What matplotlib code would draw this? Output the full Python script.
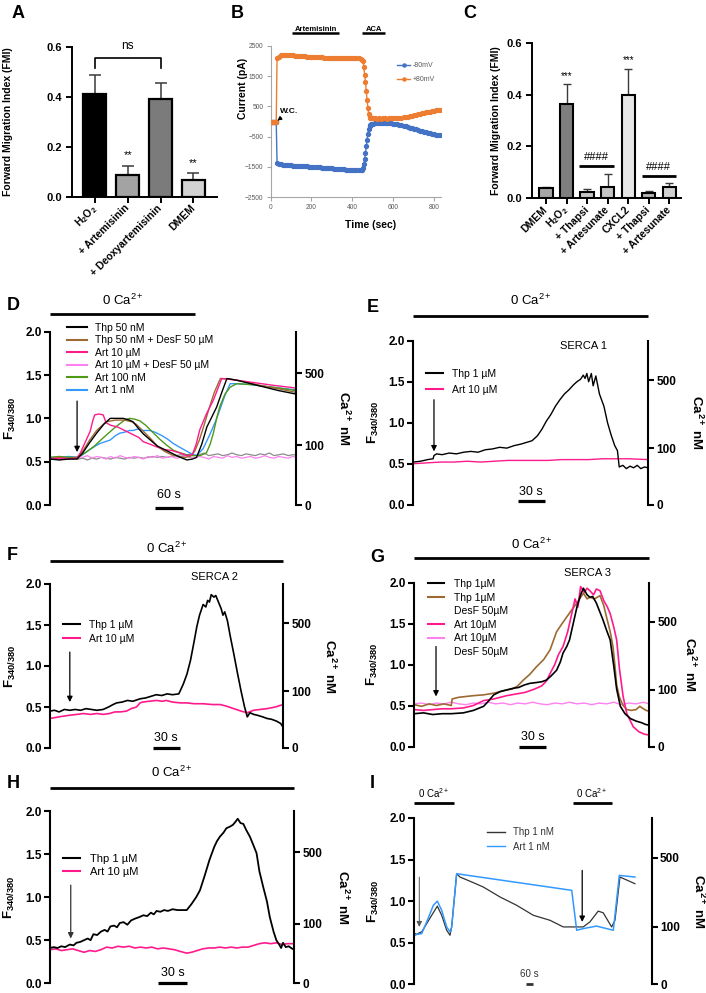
import numpy as np
import matplotlib
matplotlib.use("Agg")
import matplotlib.pyplot as plt
from matplotlib.lines import Line2D

plt.rcParams['font.family'] = ['Liberation Sans', 'DejaVu Sans']
plt.rcParams['mathtext.fontset'] = 'custom'
plt.rcParams['mathtext.rm'] = 'Liberation Sans'
plt.rcParams['mathtext.it'] = 'Liberation Sans:italic'
plt.rcParams['mathtext.bf'] = 'Liberation Sans:bold'
plt.rcParams['mathtext.default'] = 'regular'

W, H = 706, 993
fig = plt.figure(figsize=(W / 100, H / 100), dpi=100)
fig.patch.set_facecolor('white')

# ======================= DATA =======================
# ---- Panel A ----
A_LABELS = ['H$_2$O$_2$', '+ Artemisinin', '+ Deoxyartemisinin', 'DMEM']
A_MEANS = [0.41, 0.087, 0.39, 0.067]
A_ERR = [0.077, 0.036, 0.064, 0.026]
A_COLORS = ['#000000', '#a3a3a3', '#7b7b7b', '#d3d3d3']
A_STARS = ['', '**', '', '**']
FMI_TICKS = [0.0, 0.2, 0.4, 0.6]
FMI_TICK_LABELS = ['0.0', '0.2', '0.4', '0.6']

# ---- Panel C ----
C_LABELS = ['DMEM', 'H$_2$O$_2$', '+ Thapsi', '+ Artesunate', 'CXCL2', '+ Thapsi', '+ Artesunate']
C_MEANS = [0.039, 0.364, 0.026, 0.042, 0.399, 0.022, 0.045]
C_ERR = [0.006, 0.076, 0.010, 0.051, 0.100, 0.005, 0.013]
C_COLORS = ['#a6a6a6', '#7f7f7f', '#c4c4c4', '#c4c4c4', '#e6e6e6', '#b4b4b4', '#d0d0d0']
C_STARS = ['', '***', '', '', '***', '', '']

# ---- Panel B (whole-cell current) ----
B_TIME = [0, 5, 10, 15, 20, 25, 28, 32,
          40, 50, 60, 70, 80, 90, 100, 110, 120, 130,
          140, 150, 160, 170, 180, 190, 200, 210, 220, 230,
          240, 250, 260, 270, 280, 290, 300, 310, 320, 330,
          340, 350, 360, 370, 380, 390, 400, 410, 420, 430, 440,
          448, 452, 456, 460, 464, 468, 472, 476, 480, 484, 488, 492, 496,
          500, 510, 520, 530, 540, 550, 560, 570, 580, 590,
          600, 610, 620, 630, 640, 650, 660, 670, 680, 690,
          700, 710, 720, 730, 740, 750, 760, 770, 780, 790,
          800, 810, 820, 830]
B_POS80 = [0, 0, 0, 0, 0, 0, 0, 2100,
           2150, 2190, 2200, 2210, 2200, 2200, 2190, 2190, 2180, 2180,
           2170, 2170, 2160, 2160, 2150, 2150, 2140, 2140, 2130, 2130,
           2120, 2120, 2110, 2110, 2100, 2100, 2100, 2100, 2100, 2090,
           2100, 2090, 2100, 2090, 2100, 2100, 2090, 2100, 2090, 2090, 2080,
           2050, 2000, 1800, 1550, 1300, 1000, 700, 450, 250, 160, 130, 110, 100,
           100, 100, 95, 100, 95, 100, 100, 95, 100, 100,
           105, 110, 115, 120, 130, 140, 150, 165, 180, 195,
           210, 225, 240, 255, 270, 285, 300, 315, 330, 345,
           360, 375, 385, 395]
B_NEG80 = [0, 0, 0, 0, 0, 0, 0, -1380,
           -1400, -1420, -1430, -1440, -1440, -1450, -1450, -1460, -1460, -1470,
           -1470, -1480, -1480, -1490, -1490, -1500, -1500, -1510, -1510, -1520,
           -1520, -1530, -1530, -1540, -1540, -1550, -1550, -1560, -1560, -1570,
           -1570, -1580, -1580, -1590, -1590, -1600, -1600, -1600, -1610, -1600, -1600,
           -1590, -1550, -1420, -1250, -1050, -820, -600, -400, -250, -160, -110, -90, -80,
           -70, -60, -55, -50, -50, -45, -50, -50, -55, -60,
           -70, -80, -95, -110, -125, -140, -160, -180, -200, -220,
           -240, -260, -280, -300, -320, -340, -360, -380, -395, -410,
           -425, -440, -450, -460]
B_XTICKS = [0, 200, 400, 600, 800]
B_YTICKS = [-2500, -1500, -500, 500, 1500, 2500]
B_WC_TIME = 28
B_ART_PERIOD = (105, 335)
B_ACA_PERIOD = (448, 560)

# ---- common trace axes ----
F_TICKS = [0.0, 0.5, 1.0, 1.5, 2.0]
F_TICK_LABELS = ['0.0', '0.5', '1.0', '1.5', '2.0']
CA_TICK_POS = [0.0, 0.69, 1.52]
CA_TICK_LABELS = ['0', '100', '500']

# ---- Panel D (time s, F340/380) ----
D_THP50 = [(0, 0.53), (20, 0.52), (40, 0.53), (58, 0.53), (70, 0.6), (85, 0.72), (100, 0.83), (115, 0.93),
           (129, 1.0), (145, 1.0), (157, 1.0), (170, 0.98), (178, 0.96), (190, 0.88), (200, 0.82), (215, 0.75),
           (230, 0.68), (245, 0.64), (260, 0.6), (275, 0.56), (293, 0.52), (305, 0.53), (314, 0.55), (325, 0.7),
           (336, 0.9), (347, 1.02), (357, 1.13), (368, 1.3), (379, 1.46), (400, 1.44), (430, 1.4), (460, 1.36),
           (490, 1.32), (527, 1.28)]
D_THP50_DESF = [(0, 0.54), (20, 0.55), (40, 0.54), (58, 0.55), (70, 0.62), (85, 0.75), (100, 0.86), (120, 0.96),
                (140, 0.98), (160, 0.98), (175, 0.96), (185, 0.93), (200, 0.85), (215, 0.77), (230, 0.68),
                (245, 0.62), (260, 0.58), (275, 0.56), (290, 0.55), (300, 0.56), (310, 0.62), (320, 0.75),
                (330, 0.92), (340, 1.1), (352, 1.3), (365, 1.46), (390, 1.45), (420, 1.42), (450, 1.38),
                (490, 1.34), (527, 1.3)]
D_ART10 = [(0, 0.53), (20, 0.54), (40, 0.53), (58, 0.54), (65, 0.6), (75, 0.72), (86, 0.85), (92, 0.98),
           (96, 1.04), (105, 1.05), (114, 1.04), (120, 0.95), (130, 0.92), (145, 0.9), (160, 0.86), (175, 0.82),
           (190, 0.78), (200, 0.73), (215, 0.7), (229, 0.67), (245, 0.64), (260, 0.63), (279, 0.6), (293, 0.57),
           (305, 0.58), (313, 0.7), (321, 0.87), (335, 1.05), (350, 1.21), (360, 1.35), (368, 1.46), (400, 1.44),
           (440, 1.41), (480, 1.38), (527, 1.35)]
D_ART100 = [(0, 0.55), (20, 0.56), (40, 0.55), (58, 0.55), (75, 0.6), (95, 0.68), (115, 0.78), (136, 0.88),
            (150, 0.94), (160, 0.98), (171, 1.0), (182, 0.99), (193, 0.97), (205, 0.92), (220, 0.84), (235, 0.76),
            (250, 0.69), (265, 0.63), (280, 0.6), (300, 0.57), (321, 0.57), (335, 0.6), (343, 0.7), (350, 0.83),
            (357, 1.0), (364, 1.14), (375, 1.28), (386, 1.36), (400, 1.4), (430, 1.39), (460, 1.37), (490, 1.35),
            (527, 1.32)]
D_ART1 = [(0, 0.55), (20, 0.55), (40, 0.56), (58, 0.55), (70, 0.58), (85, 0.64), (100, 0.69), (107, 0.71),
          (118, 0.73), (129, 0.75), (140, 0.8), (150, 0.83), (160, 0.84), (170, 0.86), (178, 0.86), (190, 0.88),
          (200, 0.86), (214, 0.86), (225, 0.84), (240, 0.8), (252, 0.76), (264, 0.71), (280, 0.66), (300, 0.6),
          (314, 0.57), (328, 0.65), (343, 0.82), (355, 0.97), (364, 1.1), (375, 1.27), (386, 1.4), (400, 1.4),
          (430, 1.39), (460, 1.37), (490, 1.35), (527, 1.33)]
D_ART10_DESF = [(0, 0.55), (10, 0.53), (20, 0.56), (30, 0.54), (40, 0.55), (50, 0.53), (60, 0.56), (70, 0.55),
                (80, 0.57), (90, 0.54), (100, 0.56), (110, 0.55), (120, 0.53), (130, 0.56), (140, 0.54),
                (150, 0.57), (160, 0.55), (170, 0.54), (180, 0.56), (190, 0.55), (200, 0.53), (210, 0.56),
                (220, 0.55), (230, 0.57), (240, 0.54), (250, 0.55), (260, 0.56), (270, 0.54), (280, 0.55),
                (290, 0.57), (300, 0.55), (310, 0.54), (320, 0.56), (330, 0.55), (340, 0.53), (350, 0.56),
                (360, 0.55), (370, 0.54), (380, 0.57), (390, 0.55), (400, 0.56), (410, 0.54), (420, 0.55),
                (430, 0.56), (440, 0.54), (450, 0.55), (460, 0.57), (470, 0.55), (480, 0.54), (490, 0.56),
                (500, 0.55), (510, 0.54), (520, 0.56), (527, 0.55)]
D_CONTROL = [(0, 0.53), (10, 0.54), (20, 0.52), (30, 0.54), (40, 0.53), (50, 0.55), (60, 0.53), (70, 0.54),
             (80, 0.52), (90, 0.54), (100, 0.53), (110, 0.55), (120, 0.54), (130, 0.53), (140, 0.55),
             (150, 0.54), (160, 0.53), (170, 0.55), (180, 0.54), (190, 0.55), (200, 0.54), (210, 0.55),
             (220, 0.56), (230, 0.55), (240, 0.56), (250, 0.55), (260, 0.56), (270, 0.57), (280, 0.58),
             (290, 0.57), (300, 0.59), (310, 0.57), (320, 0.58), (330, 0.6), (340, 0.57), (350, 0.58),
             (360, 0.59), (370, 0.57), (380, 0.58), (390, 0.6), (400, 0.58), (410, 0.57), (420, 0.59),
             (430, 0.58), (440, 0.57), (450, 0.59), (460, 0.58), (470, 0.6), (480, 0.57), (490, 0.58),
             (500, 0.59), (510, 0.57), (520, 0.58), (527, 0.58)]

# ---- Panel E ----
E_THP1 = [(0, 0.52), (8, 0.53), (16, 0.55), (22, 0.56), (23, 0.6), (26, 0.62), (32, 0.61), (40, 0.63), (48, 0.62),
          (56, 0.64), (64, 0.65), (72, 0.64), (80, 0.67), (88, 0.68), (96, 0.7), (104, 0.69), (112, 0.72),
          (120, 0.74), (126, 0.76), (132, 0.78), (138, 0.84), (143, 0.92), (148, 1.02), (153, 1.1), (158, 1.2),
          (163, 1.28), (168, 1.35), (173, 1.4), (178, 1.46), (182, 1.5), (186, 1.53), (189, 1.58), (191, 1.54),
          (193, 1.6), (195, 1.5), (198, 1.6), (200, 1.45), (203, 1.57), (207, 1.35), (212, 1.2), (216, 1.0),
          (220, 0.85), (224, 0.72), (227, 0.66), (229, 0.46), (233, 0.48), (237, 0.44), (241, 0.47), (245, 0.45),
          (249, 0.48), (253, 0.44), (257, 0.46), (261, 0.45)]
E_ART10 = [(0, 0.5), (15, 0.51), (30, 0.52), (45, 0.52), (60, 0.53), (75, 0.52), (90, 0.53), (105, 0.54),
           (120, 0.54), (135, 0.54), (150, 0.54), (165, 0.55), (180, 0.55), (195, 0.55), (210, 0.56), (225, 0.56),
           (240, 0.56), (261, 0.55)]

# ---- Panel F ----
F_THP1 = [(0, 0.45), (5, 0.46), (10, 0.44), (16, 0.47), (22, 0.46), (28, 0.47), (34, 0.46), (40, 0.48), (46, 0.47),
          (52, 0.46), (59, 0.47), (65, 0.5), (70, 0.53), (74, 0.55), (80, 0.56), (86, 0.58), (92, 0.57), (100, 0.6),
          (106, 0.61), (112, 0.63), (118, 0.65), (124, 0.64), (130, 0.66), (136, 0.65), (143, 0.66), (148, 0.78),
          (152, 0.9), (156, 1.07), (160, 1.3), (163, 1.48), (166, 1.62), (170, 1.75), (173, 1.72), (175, 1.8),
          (177, 1.78), (179, 1.87), (182, 1.84), (184, 1.86), (187, 1.78), (190, 1.7), (192, 1.62), (194, 1.66),
          (197, 1.55), (200, 1.37), (204, 1.15), (208, 0.92), (212, 0.7), (216, 0.5), (219, 0.38), (222, 0.43),
          (226, 0.41), (230, 0.4), (236, 0.38), (241, 0.36), (246, 0.35), (251, 0.33), (256, 0.3), (259, 0.25)]
F_ART10 = [(0, 0.36), (10, 0.38), (22, 0.4), (30, 0.41), (37, 0.42), (45, 0.41), (52, 0.42), (59, 0.41), (66, 0.42),
           (72, 0.44), (78, 0.44), (85, 0.45), (90, 0.48), (96, 0.5), (100, 0.55), (103, 0.56), (110, 0.57),
           (118, 0.58), (125, 0.57), (129, 0.58), (136, 0.56), (145, 0.55), (152, 0.55), (160, 0.54), (170, 0.54),
           (180, 0.53), (189, 0.53), (196, 0.51), (204, 0.48), (212, 0.45), (219, 0.43), (226, 0.46), (233, 0.47),
           (241, 0.48), (250, 0.5), (259, 0.53)]

# ---- Panel G ----
G_THP1 = [(0, 0.4), (10, 0.41), (20, 0.39), (30, 0.4), (40, 0.4), (53, 0.41), (64, 0.44), (75, 0.49), (80, 0.55),
          (86, 0.63), (93, 0.67), (100, 0.69), (107, 0.71), (113, 0.72), (119, 0.75), (125, 0.77), (132, 0.78),
          (138, 0.79), (143, 0.81), (148, 0.86), (154, 0.93), (158, 1.03), (161, 1.14), (165, 1.22), (168, 1.3),
          (172, 1.5), (176, 1.7), (180, 1.85), (183, 1.93), (187, 1.85), (190, 1.82), (193, 1.83), (197, 1.75),
          (204, 1.55), (208, 1.42), (212, 1.3), (216, 0.97), (219, 0.7), (223, 0.49), (228, 0.4), (234, 0.34),
          (240, 0.31), (246, 0.29), (250, 0.27), (254, 0.26)]
G_THP1_DESF = [(0, 0.51), (8, 0.49), (16, 0.52), (24, 0.5), (32, 0.52), (40, 0.5), (41, 0.58), (48, 0.6), (56, 0.61),
               (64, 0.62), (75, 0.63), (86, 0.65), (93, 0.67), (100, 0.69), (106, 0.7), (112, 0.74), (118, 0.81),
               (125, 0.88), (132, 0.97), (140, 1.06), (147, 1.18), (154, 1.4), (160, 1.5), (165, 1.58), (170, 1.66),
               (176, 1.75), (180, 1.82), (183, 1.87), (187, 1.8), (190, 1.82), (195, 1.8), (201, 1.84), (205, 1.72),
               (208, 1.58), (212, 1.4), (215, 1.22), (217, 1.0), (219, 0.75), (222, 0.6), (226, 0.5), (230, 0.45),
               (235, 0.44), (240, 0.45), (244, 0.49), (248, 0.46), (251, 0.44), (254, 0.43)]
G_ART10 = [(0, 0.45), (10, 0.44), (20, 0.45), (30, 0.46), (40, 0.46), (53, 0.47), (64, 0.5), (75, 0.56), (86, 0.58),
           (93, 0.6), (100, 0.62), (110, 0.64), (120, 0.66), (130, 0.7), (138, 0.74), (143, 0.8), (147, 0.89),
           (152, 1.0), (156, 1.12), (161, 1.22), (166, 1.4), (170, 1.6), (174, 1.8), (177, 1.7), (180, 1.95),
           (184, 1.88), (187, 1.93), (190, 1.9), (194, 1.85), (197, 1.92), (201, 1.9), (205, 1.78), (209, 1.7),
           (212, 1.62), (216, 1.45), (219, 1.3), (222, 0.95), (226, 0.61), (230, 0.4), (237, 0.24), (243, 0.18),
           (249, 0.15), (254, 0.14)]
G_ART10_DESF = [(0, 0.52), (8, 0.53), (16, 0.51), (24, 0.53), (32, 0.52), (40, 0.54), (48, 0.52), (56, 0.51),
                (64, 0.53), (72, 0.52), (80, 0.54), (88, 0.52), (96, 0.53), (104, 0.51), (112, 0.53), (120, 0.52),
                (128, 0.54), (136, 0.52), (144, 0.51), (152, 0.53), (160, 0.52), (168, 0.54), (176, 0.52),
                (184, 0.53), (192, 0.51), (200, 0.53), (208, 0.52), (216, 0.54), (224, 0.51), (232, 0.53),
                (240, 0.52), (248, 0.54), (254, 0.52)]

# ---- Panel H ----
H_THP1 = [(0, 0.41), (4, 0.42), (8, 0.41), (12, 0.43), (16, 0.42), (21, 0.45), (25, 0.44), (28, 0.47), (32, 0.48),
          (36, 0.5), (40, 0.52), (43, 0.5), (46, 0.57), (50, 0.56), (54, 0.6), (58, 0.62), (61, 0.6), (64, 0.66),
          (68, 0.67), (71, 0.65), (74, 0.7), (78, 0.71), (82, 0.68), (86, 0.73), (90, 0.75), (95, 0.77), (99, 0.79),
          (103, 0.78), (107, 0.82), (110, 0.8), (113, 0.84), (117, 0.83), (121, 0.85), (125, 0.84), (130, 0.86),
          (135, 0.85), (140, 0.85), (145, 0.85), (150, 0.92), (155, 1.0), (159, 1.08), (164, 1.25), (169, 1.43),
          (174, 1.58), (177, 1.65), (180, 1.7), (184, 1.75), (187, 1.8), (191, 1.82), (194, 1.84), (197, 1.88),
          (199, 1.91), (202, 1.86), (205, 1.85), (208, 1.78), (212, 1.7), (215, 1.62), (219, 1.51), (222, 1.3),
          (226, 1.12), (230, 0.95), (233, 0.77), (237, 0.6), (240, 0.5), (243, 0.45), (245, 0.41), (247, 0.47),
          (250, 0.42), (253, 0.43), (257, 0.4)]
H_ART10 = [(0, 0.39), (6, 0.4), (12, 0.38), (18, 0.39), (24, 0.4), (30, 0.38), (36, 0.36), (42, 0.38), (48, 0.37),
           (54, 0.39), (60, 0.42), (66, 0.41), (72, 0.43), (78, 0.42), (84, 0.43), (90, 0.41), (96, 0.42),
           (102, 0.41), (108, 0.42), (114, 0.4), (120, 0.41), (126, 0.4), (132, 0.39), (138, 0.37), (145, 0.35),
           (150, 0.36), (156, 0.38), (162, 0.4), (168, 0.41), (174, 0.41), (180, 0.42), (186, 0.41), (192, 0.42),
           (198, 0.41), (204, 0.42), (210, 0.42), (216, 0.44), (222, 0.46), (228, 0.47), (234, 0.46), (240, 0.47),
           (246, 0.45), (252, 0.46), (257, 0.46)]

# ---- Panel I ----
I_THP1N = [(5, 0.61), (20, 0.6), (40, 0.62), (58, 0.63), (97, 0.73), (136, 0.83), (180, 0.94), (214, 0.83),
           (253, 0.65), (279, 0.59), (292, 0.69), (331, 1.33), (357, 1.29), (450, 1.23), (539, 1.17), (670, 1.05),
           (800, 0.95), (930, 0.83), (1060, 0.77), (1164, 0.69), (1320, 0.69), (1372, 0.75), (1437, 0.88),
           (1476, 0.86), (1542, 0.69), (1568, 0.77), (1607, 1.29), (1724, 1.21)]
I_ART1N = [(5, 0.59), (20, 0.6), (58, 0.61), (102, 0.77), (149, 0.95), (180, 1.0), (214, 0.89), (253, 0.69),
           (279, 0.63), (292, 0.69), (331, 1.33), (1230, 1.13), (1269, 0.65), (1320, 0.67), (1424, 0.7),
           (1555, 0.65), (1602, 1.31), (1724, 1.29)]

# colours
BLACK = '#000000'
BROWN = '#9c6a32'
MAGENTA = '#ff1a8c'
PINK = '#ff80f0'
GREEN = '#4d9a17'
BLUE = '#3399ff'
GRAY = '#8c8c8c'


# ======================= HELPERS =======================
def axes_px(x0, y0, x1, y1):
    return fig.add_axes([x0 / W, 1 - y1 / H, (x1 - x0) / W, (y1 - y0) / H])


def panel_label(x, y, s):
    fig.text(x / W, 1 - y / H, s, fontsize=13, fontweight='bold', ha='center', va='center')


def style_bar_axes(ax, labels, width_px, ylab_off):
    for s in ('top', 'right'):
        ax.spines[s].set_visible(False)
    for s in ('left', 'bottom'):
        ax.spines[s].set_linewidth(1.4)
    ax.set_ylim(0, 0.6)
    ax.set_yticks(FMI_TICKS)
    ax.set_yticklabels(FMI_TICK_LABELS, fontweight='bold', fontsize=8)
    ax.set_xticks(np.arange(len(labels)))
    ax.set_xticklabels(labels, rotation=45, ha='right', va='center', rotation_mode='anchor',
                       fontweight='bold', fontsize=7.5)
    ax.tick_params(length=4, width=1.4, pad=3)
    ax.set_ylabel('Forward Migration Index (FMI)', fontweight='bold', fontsize=7.5, va='center', ha='center')
    ax.yaxis.set_label_coords(ylab_off / width_px, 0.5)


def trace_panel(box, xmax, lab_l=-40, lab_r=47):
    x0, y0, x1, y1 = box
    ax = axes_px(*box)
    ax.set_xlim(0, xmax)
    ax.set_ylim(0, 2.0)
    for s in ('top', 'right', 'bottom'):
        ax.spines[s].set_visible(False)
    ax.spines['left'].set_linewidth(1.5)
    ax.set_xticks([])
    ax.set_yticks(F_TICKS)
    ax.set_yticklabels(F_TICK_LABELS, fontweight='bold', fontsize=8.5)
    ax.tick_params(axis='y', length=4, width=1.5, pad=2)
    ax.set_ylabel('F$_{340/380}$', fontweight='bold', fontsize=9.5, va='center', ha='center')
    ax.yaxis.set_label_coords(lab_l / (x1 - x0), 0.5)
    ax2 = ax.twinx()
    ax2.set_ylim(0, 2.0)
    for s in ('top', 'left', 'bottom'):
        ax2.spines[s].set_visible(False)
    ax2.spines['right'].set_linewidth(1.5)
    ax2.set_yticks(CA_TICK_POS)
    ax2.set_yticklabels(CA_TICK_LABELS, fontweight='bold', fontsize=8.5)
    ax2.tick_params(axis='y', length=4, width=1.5, pad=2)
    ax2.set_ylabel('Ca$^{2+}$ nM', rotation=270, fontweight='bold', fontsize=9.5, va='center', ha='center')
    ax2.yaxis.set_label_coords(1 + lab_r / (x1 - x0), 0.5)
    return ax


def draw(ax, pts, color, lw=1.0, z=2):
    t, v = zip(*pts)
    ax.plot(t, v, color=color, lw=lw, zorder=z, solid_joinstyle='round')


def ca_bar(ax, t0, t1, y, ty, fs=9.5, lw=2.0):
    ax.plot([t0, t1], [y, y], color='k', lw=lw, clip_on=False, solid_capstyle='butt')
    ax.text((t0 + t1) / 2, ty, '0 Ca$^{2+}$', ha='center', va='center', fontsize=fs, clip_on=False)


def scale_bar(ax, t0, length, y, ty, fs=9, lw=2.3, color='k'):
    ax.plot([t0, t0 + length], [y, y], color=color, lw=lw, clip_on=False, solid_capstyle='butt')
    ax.text(t0 + length / 2, ty, '%d s' % length, ha='center', va='center', fontsize=fs, color=color)


def stim_arrow(ax, t, ytop, ybot, color='k', lw=0.9):
    ax.annotate('', xy=(t, ybot), xytext=(t, ytop),
                arrowprops=dict(arrowstyle='-|>', color=color, lw=lw, mutation_scale=8,
                                shrinkA=0, shrinkB=0))


def legend_px(ax, entries, x_px, top_px, fs, hl_px, text_px, pitch_px, lw=1.5, tcolor='k'):
    fs_px = fs * 100 / 72
    handles = [Line2D([], [], color=c, lw=lw) for _, c in entries]
    labels = [l for l, _ in entries]
    ax.legend(handles, labels, loc='upper left', bbox_to_anchor=(x_px / W, 1 - top_px / H),
              bbox_transform=fig.transFigure, frameon=False, fontsize=fs, borderpad=0,
              borderaxespad=0, handlelength=hl_px / fs_px,
              handletextpad=(text_px - x_px - hl_px) / fs_px,
              labelspacing=max(0.0, (pitch_px - 1.0 * fs_px) / fs_px), labelcolor=tcolor)


# ======================= PANEL A =======================
axA = axes_px(72, 46.7, 216.7, 196.7)
xa = np.arange(len(A_MEANS))
axA.errorbar(xa, A_MEANS, yerr=[np.zeros(len(A_ERR)), A_ERR], fmt='none', ecolor='#3a3a3a',
             elinewidth=1.1, capsize=4, capthick=1.1, zorder=1)
axA.bar(xa, A_MEANS, width=0.7, color=A_COLORS, edgecolor='black', linewidth=1.6, zorder=2)
axA.set_xlim(-0.7, 3.71)
style_bar_axes(axA, A_LABELS, 144.7, -64)
for i, s in enumerate(A_STARS):
    if s:
        axA.text(i, A_MEANS[i] + A_ERR[i] + 0.042, s, ha='center', va='center', fontsize=8)
axA.plot([0, 0, 2, 2], [0.515, 0.556, 0.556, 0.515], color='k', lw=1.2, clip_on=False)
axA.text(1, 0.603, 'ns', ha='center', va='center', fontsize=8.5, clip_on=False)
panel_label(18, 14, 'A')

# ======================= PANEL B =======================
axB = axes_px(270.5, 46, 441, 197)
axB.plot(B_TIME, B_NEG80, color='#4472c4', marker='o', markersize=2.8, lw=1.0, label='-80mV', zorder=2)
axB.plot(B_TIME, B_POS80, color='#ed7d31', marker='o', markersize=2.8, lw=1.0, label='+80mV', zorder=3)
axB.set_xlim(0, 833)
axB.set_ylim(-2500, 2500)
axB.set_xticks(B_XTICKS)
axB.set_yticks(B_YTICKS)
for s in ('top', 'right'):
    axB.spines[s].set_visible(False)
for s in ('left', 'bottom'):
    axB.spines[s].set_color('#a6a6a6')
    axB.spines[s].set_linewidth(0.8)
axB.tick_params(labelsize=4.8, labelcolor='#595959', color='#a6a6a6', length=3, width=0.8, pad=2)
axB.set_ylabel('Current (pA)', fontweight='bold', fontsize=7.5, va='center', ha='center')
axB.yaxis.set_label_coords(-27 / 170.5, 0.72)
axB.set_xlabel('Time (sec)', fontweight='bold', fontsize=7.5, va='center', ha='center')
axB.xaxis.set_label_coords(100 / 170.5, -28 / 151)
axB.legend(loc='upper left', bbox_to_anchor=(397 / W, 1 - 62 / H), bbox_transform=fig.transFigure,
           frameon=False, fontsize=5, borderpad=0, borderaxespad=0, handlelength=1.9,
           handletextpad=0.3, labelspacing=1.0, labelcolor='#595959', markerscale=0.8)
axB.annotate('W.C.', xy=(B_WC_TIME, 0), xytext=(48, 330), fontsize=6, fontweight='bold',
             ha='left', va='center',
             arrowprops=dict(arrowstyle='-|>', color='k', lw=0.8, mutation_scale=6, shrinkA=0, shrinkB=1))
for (t0, t1), lab in ((B_ART_PERIOD, 'Artemisinin'), (B_ACA_PERIOD, 'ACA')):
    axB.plot([t0, t1], [2920, 2920], color='k', lw=1.8, clip_on=False, solid_capstyle='butt')
    axB.text((t0 + t1) / 2, 3060, lab, ha='center', va='center', fontsize=5.5, fontweight='bold')
panel_label(237, 13, 'B')

# ======================= PANEL C =======================
axC = axes_px(531.7, 42.7, 681, 198.3)
xc = np.arange(len(C_MEANS))
axC.errorbar(xc, C_MEANS, yerr=[np.zeros(len(C_ERR)), C_ERR], fmt='none', ecolor='#3a3a3a',
             elinewidth=1.0, capsize=3, capthick=1.0, zorder=1)
axC.bar(xc, C_MEANS, width=0.65, color=C_COLORS, edgecolor='black', linewidth=1.5, zorder=2)
axC.set_xlim(-0.7, 6.57)
style_bar_axes(axC, C_LABELS, 149.3, -36)
for i, s in enumerate(C_STARS):
    if s:
        axC.text(i, C_MEANS[i] + C_ERR[i] + 0.033, s, ha='center', va='center', fontsize=7)
for (p0, p1, yl, yt) in ((1.6, 3.3, 0.126, 0.158), (4.66, 6.33, 0.086, 0.121)):
    axC.plot([p0, p1], [yl, yl], color='k', lw=2.0, solid_capstyle='butt')
    axC.text((p0 + p1) / 2, yt, '####', ha='center', va='center', fontsize=8)
panel_label(470, 14, 'C')

# ======================= PANEL D =======================
axD = trace_panel((50, 331.7, 296, 505), 527, -40, 48)
draw(axD, D_CONTROL, GRAY, 0.9, 1)
draw(axD, D_ART10_DESF, PINK, 0.9, 1)
draw(axD, D_ART1, BLUE)
draw(axD, D_ART100, GREEN)
draw(axD, D_THP50_DESF, BROWN)
draw(axD, D_ART10, MAGENTA)
draw(axD, D_THP50, BLACK)
ca_bar(axD, 0, 311, 2.21, 2.36)
scale_bar(axD, 225, 60, -0.03, 0.12)
stim_arrow(axD, 58, 1.2, 0.61)
legend_px(axD, [('Thp 50 nM', BLACK), ('Thp 50 nM + DesF 50 µM', BROWN), ('Art 10 µM', MAGENTA),
                ('Art 10 µM + DesF 50 µM', PINK), ('Art 100 nM', GREEN), ('Art 1 nM', BLUE)],
          67, 323, 7.5, 20, 95, 12.9)
panel_label(13, 306, 'D')

# ======================= PANEL E =======================
axE = trace_panel((413.3, 340.7, 648, 504.7), 261, -40, 49)
draw(axE, E_ART10, MAGENTA)
draw(axE, E_THP1, BLACK)
ca_bar(axE, 0, 261, 2.30, 2.49)
scale_bar(axE, 116, 30, 0.045, 0.16)
stim_arrow(axE, 23, 1.28, 0.65)
axE.text(189, 1.93, 'SERCA 1', ha='center', va='center', fontsize=8)
legend_px(axE, [('Thp 1 µM', BLACK), ('Art 10 µM', MAGENTA)], 426, 369, 7.5, 17, 451.7, 16)
panel_label(373, 307, 'E')

# ======================= PANEL F =======================
axF = trace_panel((50, 584, 283.3, 748), 259, -40, 46)
draw(axF, F_ART10, MAGENTA, 1.2)
draw(axF, F_THP1, BLACK, 1.2)
ca_bar(axF, 0, 259, 2.28, 2.44)
scale_bar(axF, 114, 30, 0.0, 0.125)
stim_arrow(axF, 22, 1.17, 0.56)
axF.text(183, 2.08, 'SERCA 2', ha='center', va='center', fontsize=8)
legend_px(axF, [('Thp 1 µM', BLACK), ('Art 10 µM', MAGENTA)], 63, 619.5, 7.5, 17, 89, 15)
panel_label(12, 556, 'F')

# ======================= PANEL G =======================
axG = trace_panel((414.3, 582.5, 649, 746.5), 254, -42, 41)
draw(axG, G_ART10_DESF, PINK, 1.0, 1)
draw(axG, G_THP1_DESF, BROWN, 1.2)
draw(axG, G_ART10, MAGENTA, 1.2)
draw(axG, G_THP1, BLACK, 1.2)
ca_bar(axG, 0, 254, 2.30, 2.46)
scale_bar(axG, 113, 30, 0.0, 0.12)
stim_arrow(axG, 23.5, 1.22, 0.61)
axG.text(187, 2.11, 'SERCA 3', ha='center', va='center', fontsize=8)
legend_px(axG, [('Thp 1µM', BLACK), ('Thp 1µM', BROWN), ('DesF 50µM', 'none'), ('Art 10µM', MAGENTA),
                ('Art 10µM', PINK), ('DesF 50µM', 'none')], 427.7, 579, 7.5, 16.6, 454.3, 14)
panel_label(377, 557, 'G')

# ======================= PANEL H =======================
axH = trace_panel((50, 811, 294.3, 983.3), 259, -41, 48)
draw(axH, H_ART10, MAGENTA, 1.2)
draw(axH, H_THP1, BLACK, 1.3)
ca_bar(axH, 0, 259, 2.27, 2.45)
scale_bar(axH, 115, 30, 0.0, 0.12)
stim_arrow(axH, 22, 1.14, 0.52, color='#333333')
legend_px(axH, [('Thp 1 µM', BLACK), ('Art 10 µM', MAGENTA)], 63, 854, 8, 17, 90, 14)
panel_label(13, 783, 'H')

# ======================= PANEL I =======================
axI = trace_panel((414.3, 818, 651.7, 984.3), 1855, -41, 47)
draw(axI, I_THP1N, '#333333', 0.9)
draw(axI, I_ART1N, BLUE, 1.1)
ca_bar(axI, 0, 310, 2.18, 2.30, fs=7, lw=2.0)
ca_bar(axI, 1237, 1542, 2.18, 2.30, fs=7, lw=2.0)
scale_bar(axI, 870, 60, 0.0, 0.12, fs=7, lw=2.0, color='#333333')
stim_arrow(axI, 39, 1.29, 0.69, color='#555555', lw=0.7)
stim_arrow(axI, 1312, 1.37, 0.75)
legend_px(axI, [('Thp 1 nM', '#333333'), ('Art 1 nM', BLUE)], 486.7, 827, 7, 18.3, 513.3, 14.4,
          lw=1.0, tcolor='#333333')
panel_label(372, 783, 'I')

fig.savefig('out.png', dpi=100, facecolor='white')
